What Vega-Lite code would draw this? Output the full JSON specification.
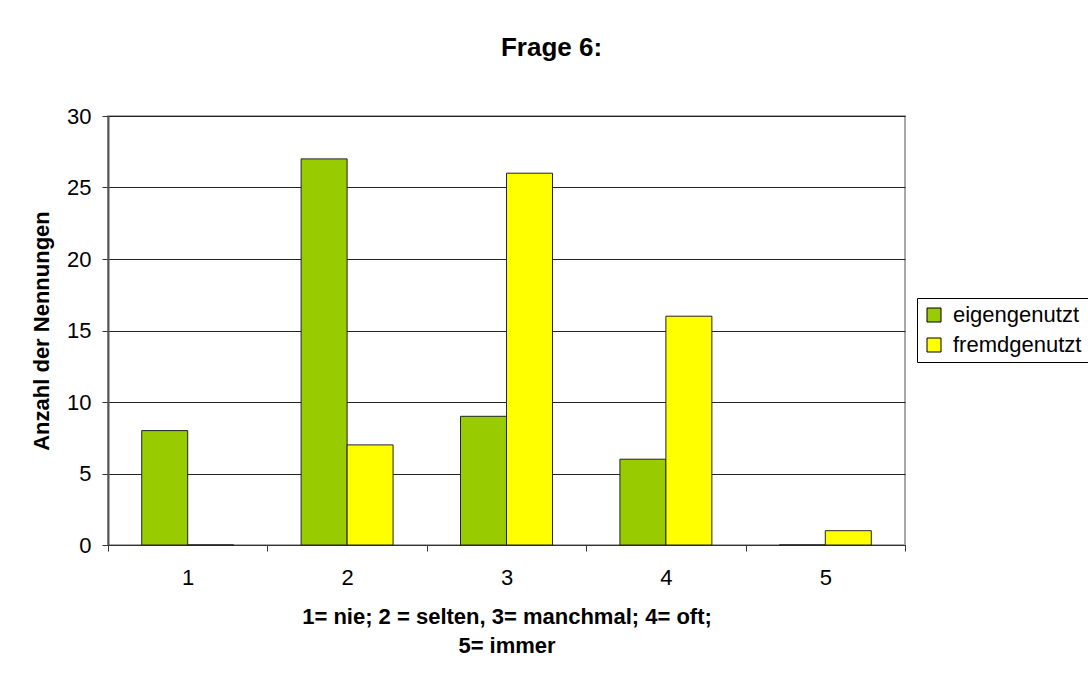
{
  "$schema": "https://vega.github.io/schema/vega-lite/v6.json",
  "width": 797,
  "height": 429,
  "autosize": {"type": "none"},
  "padding": {"left": 108, "top": 116, "right": 183, "bottom": 128},
  "background": "white",
  "title": {
    "text": "Frage 6:",
    "anchor": "middle",
    "dx": 45,
    "offset": 44,
    "font": "Liberation Sans",
    "fontSize": 26,
    "fontWeight": "bold",
    "color": "#000000"
  },
  "data": {
    "values": [
      {"Antwort": "1", "Nutzung": "eigengenutzt", "Anzahl": 8},
      {"Antwort": "1", "Nutzung": "fremdgenutzt", "Anzahl": 0},
      {"Antwort": "2", "Nutzung": "eigengenutzt", "Anzahl": 27},
      {"Antwort": "2", "Nutzung": "fremdgenutzt", "Anzahl": 7},
      {"Antwort": "3", "Nutzung": "eigengenutzt", "Anzahl": 9},
      {"Antwort": "3", "Nutzung": "fremdgenutzt", "Anzahl": 26},
      {"Antwort": "4", "Nutzung": "eigengenutzt", "Anzahl": 6},
      {"Antwort": "4", "Nutzung": "fremdgenutzt", "Anzahl": 16},
      {"Antwort": "5", "Nutzung": "eigengenutzt", "Anzahl": 0},
      {"Antwort": "5", "Nutzung": "fremdgenutzt", "Anzahl": 1}
    ]
  },
  "mark": {"type": "bar", "stroke": "#222222", "strokeWidth": 1},
  "encoding": {
    "x": {
      "field": "Antwort",
      "type": "nominal",
      "scale": {"paddingInner": 0, "paddingOuter": 0},
      "axis": {
        "title": ["1= nie; 2 = selten, 3= manchmal; 4= oft;", "5= immer"],
        "titleFont": "Liberation Sans",
        "titleFontSize": 22,
        "titleFontWeight": "bold",
        "titleColor": "#000000",
        "titleLineHeight": 29,
        "titlePadding": 18,
        "labelAngle": 0,
        "labelFont": "Liberation Sans",
        "labelFontSize": 22,
        "labelColor": "#000000",
        "labelPadding": 16,
        "tickBand": "extent",
        "tickSize": 6,
        "tickColor": "#333333",
        "domainColor": "#333333",
        "grid": false
      }
    },
    "xOffset": {
      "field": "Nutzung",
      "type": "nominal",
      "scale": {"paddingInner": 0, "paddingOuter": 0.733}
    },
    "y": {
      "field": "Anzahl",
      "type": "quantitative",
      "scale": {"domain": [0, 30], "nice": false},
      "axis": {
        "title": "Anzahl der Nennungen",
        "titleFont": "Liberation Sans",
        "titleFontSize": 22,
        "titleFontWeight": "bold",
        "titleColor": "#000000",
        "titlePadding": 13,
        "values": [0, 5, 10, 15, 20, 25, 30],
        "labelFont": "Liberation Sans",
        "labelFontSize": 22,
        "labelColor": "#000000",
        "labelPadding": 11,
        "tickSize": 6,
        "tickColor": "#333333",
        "domainColor": "#555555",
        "domainWidth": 2,
        "grid": true,
        "gridColor": "#222222",
        "gridOpacity": 1
      }
    },
    "color": {
      "field": "Nutzung",
      "type": "nominal",
      "scale": {"domain": ["eigengenutzt", "fremdgenutzt"], "range": ["#99CC00", "#FFFF00"]},
      "legend": {
        "title": null,
        "orient": "none",
        "legendX": 809,
        "legendY": 182,
        "padding": 6,
        "strokeColor": "#000000",
        "fillColor": "#ffffff",
        "symbolType": "square",
        "symbolSize": 196,
        "symbolStrokeColor": "#000000",
        "symbolStrokeWidth": 1,
        "symbolOpacity": 1,
        "labelFont": "Liberation Sans",
        "labelFontSize": 22,
        "labelColor": "#000000",
        "labelOffset": 8,
        "rowPadding": 8
      }
    }
  },
  "config": {
    "view": {"stroke": "#a8a8a8", "strokeWidth": 2}
  }
}
